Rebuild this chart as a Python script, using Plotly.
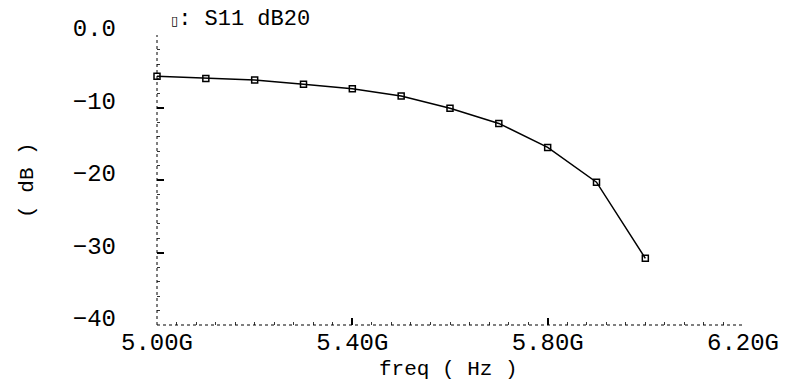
import plotly.graph_objects as go

freq_ghz = [5.0, 5.1, 5.2, 5.3, 5.4, 5.5, 5.6, 5.7, 5.8, 5.9, 6.0]
s11_db = [-5.7, -6.0, -6.2, -6.8, -7.4, -8.4, -10.1, -12.2, -15.5, -20.3, -30.8]

x_tickvals = [5.0, 5.4, 5.8, 6.2]
x_ticktext = ["5.00G", "5.40G", "5.80G", "6.20G"]
y_tickvals = [0, -10, -20, -30, -40]
y_ticktext = ["0.0", "−10", "−20", "−30", "−40"]

FONT = "Liberation Mono"

fig = go.Figure()
fig.add_trace(go.Scatter(
    x=freq_ghz, y=s11_db, mode="lines+markers",
    line=dict(color="black", width=1.5),
    marker=dict(symbol="square-open", size=6, color="black", line=dict(width=1.5, color="black")),
    cliponaxis=False, showlegend=False,
))

fig.update_layout(
    width=778, height=374,
    margin=dict(l=149, r=43, t=27, b=57),
    paper_bgcolor="white", plot_bgcolor="white",
    font=dict(family=FONT, color="black", size=22),
    xaxis=dict(
        range=[5.0, 6.2], tickvals=x_tickvals, ticktext=x_ticktext,
        showgrid=False, zeroline=False, showline=False, automargin=False,
        ticks="inside", ticklen=7, tickwidth=1.5, tickcolor="black",
        minor=dict(dtick=0.04, ticks="inside", ticklen=3, tickcolor="#333", tickwidth=1),
        tickfont=dict(size=24, family=FONT),
    ),
    yaxis=dict(
        range=[-40, 0], tickvals=y_tickvals, ticktext=y_ticktext,
        showgrid=False, zeroline=False, showline=False, automargin=False,
        ticks="inside", ticklen=7, tickwidth=1.5, tickcolor="black",
        minor=dict(dtick=2, ticks="inside", ticklen=3, tickcolor="#333", tickwidth=1),
        tickfont=dict(size=24, family=FONT),
        ticklabelstandoff=40, ticklabelshift=-7,
    ),
    shapes=[
        dict(type="line", xref="paper", yref="paper", x0=0, x1=0, y0=0, y1=1,
             line=dict(color="black", width=1, dash="dot")),
        dict(type="line", xref="paper", yref="paper", x0=0, x1=1, y0=0, y1=0,
             line=dict(color="black", width=1, dash="dot")),
    ],
    annotations=[
        dict(text="<span style='font-size:13px;font-family:DejaVu Sans;color:black'>▯</span>: S11 dB20",
             xref="paper", yref="paper",
             x=0.020, y=1.052, xanchor="left", yanchor="middle", showarrow=False,
             font=dict(size=22, family=FONT, color="black")),
        dict(text="freq ( Hz )", xref="paper", yref="paper", x=0.497, y=-0.152,
             xanchor="center", yanchor="middle", showarrow=False,
             font=dict(size=21, family=FONT)),
        dict(text="( dB )", xref="paper", yref="paper", x=-0.222, y=0.5,
             xanchor="center", yanchor="middle", showarrow=False, textangle=-90,
             font=dict(size=21, family=FONT)),
    ],
)

fig.write_html("out.html")
